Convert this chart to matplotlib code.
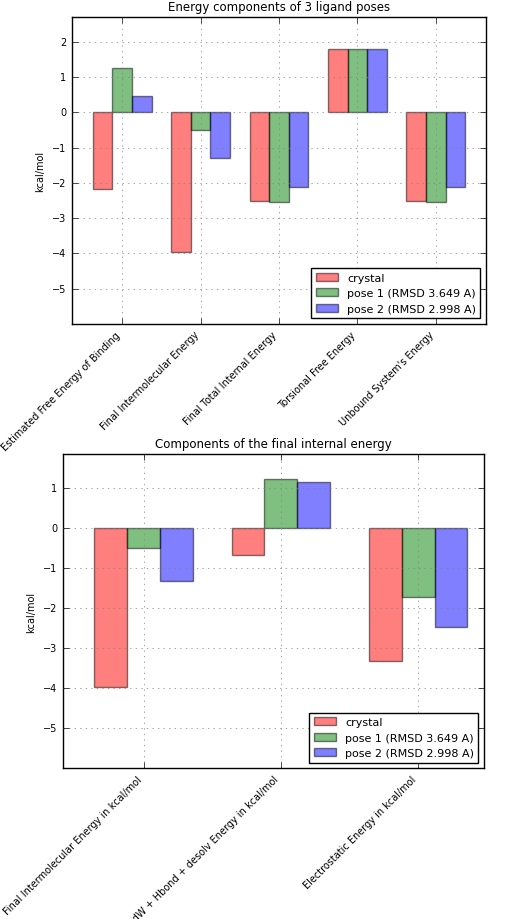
import matplotlib
matplotlib.use('Agg')
import matplotlib.pyplot as plt
import numpy as np

plt.style.use('classic')
plt.rcParams['font.size'] = 7

series = ['crystal', 'pose 1 (RMSD 3.649 A)', 'pose 2 (RMSD 2.998 A)']
colors = ['red', 'green', 'blue']

cats1 = ['Estimated Free Energy of Binding', 'Final Intermolecular Energy',
         'Final Total Internal Energy', 'Torsional Free Energy', "Unbound System's Energy"]
crystal1 = [-2.18, -3.97, -2.52, 1.79, -2.52]
pose1_1 = [1.27, -0.50, -2.55, 1.79, -2.55]
pose2_1 = [0.48, -1.30, -2.13, 1.79, -2.13]

cats2 = ['Final Intermolecular Energy in kcal/mol',
         'vdW + Hbond + desolv Energy in kcal/mol',
         'Electrostatic Energy in kcal/mol']
crystal2 = [-3.97, -0.66, -3.32]
pose1_2 = [-0.50, 1.23, -1.73]
pose2_2 = [-1.32, 1.17, -2.48]

fig = plt.figure(figsize=(5.11, 9.2), dpi=100, facecolor='white')
ax1 = fig.add_axes([0.141, 0.647, 0.810, 0.333])
ax2 = fig.add_axes([0.123, 0.164, 0.824, 0.341])

def draw(ax, cats, data, title, xlim, ylim, w):
    x = np.arange(len(cats))
    for k, (vals, c, lab) in enumerate(zip(data, colors, series)):
        ax.bar(x + (k - 1) * w, vals, w, align='center', color=c, alpha=0.5,
               edgecolor='black', label=lab)
    ax.set_xticks(x)
    ax.set_xticklabels(cats, rotation=45, ha='right', fontsize=6.5)
    ax.set_xlim(*xlim)
    ax.set_ylim(*ylim)
    ax.set_yticks(range(-5, 3) if ylim[1] > 2 else range(-5, 2))
    ax.set_ylabel('kcal/mol', fontsize=7)
    ax.set_title(title, fontsize=8.5)
    ax.grid(True, color='0.5', linestyle=':')
    ax.tick_params(labelsize=7)
    ax.legend(loc='lower right', fontsize=8)

draw(ax1, cats1, [crystal1, pose1_1, pose2_1], 'Energy components of 3 ligand poses',
     (-0.64, 4.64), (-6, 2.7), 0.25)
draw(ax2, cats2, [crystal2, pose1_2, pose2_2], 'Components of the final internal energy',
     (-0.59, 2.48), (-6, 1.85), 0.24)

fig.savefig('out.png', dpi=100)
